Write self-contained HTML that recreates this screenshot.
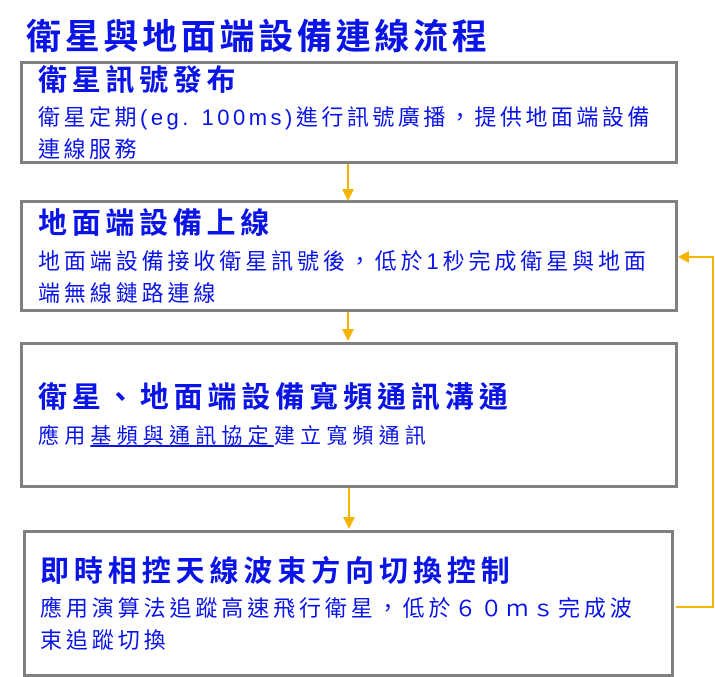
<!DOCTYPE html>
<html><head><meta charset="utf-8"><style>
body{margin:0;width:715px;height:677px;background:#fff;position:relative;overflow:hidden;font-family:"Liberation Sans","Noto Sans CJK TC",sans-serif;color:#0a14e6}
.t{position:absolute;white-space:nowrap;line-height:1}
.box{position:absolute;border:3px solid #808080;box-sizing:border-box;background:#fff}
.h{font-size:29px;font-weight:bold;letter-spacing:4.7px}
.b{font-size:22px;letter-spacing:3.5px}
</style></head><body>
<div class="t" style="left:26px;top:20px;font-size:35px;font-weight:bold;letter-spacing:3.7px">衛星與地面端設備連線流程</div>

<div class="box" style="left:20px;top:61px;width:658px;height:103px"></div>
<div class="t h" style="left:38px;top:67px">衛星訊號發布</div>
<div class="t b" style="left:38px;top:107px;letter-spacing:3.5px">衛星定期(eg. 100ms)進行訊號廣播，提供地面端設備</div>
<div class="t b" style="left:38px;top:139px;letter-spacing:3.5px">連線服務</div>

<div class="box" style="left:20px;top:200px;width:658px;height:112px"></div>
<div class="t h" style="left:38px;top:210px">地面端設備上線</div>
<div class="t b" style="left:38px;top:251px;letter-spacing:3.9px">地面端設備接收衛星訊號後，低於1秒完成衛星與地面</div>
<div class="t b" style="left:38px;top:283px;letter-spacing:3.9px">端無線鏈路連線</div>

<div class="box" style="left:20px;top:342px;width:658px;height:146px"></div>
<div class="t h" style="left:38px;top:384px;letter-spacing:4.9px">衛星、地面端設備寬頻通訊溝通</div>
<div class="t b" style="left:38px;top:426px;font-size:21px;letter-spacing:5.2px">應用<span style="text-decoration:underline">基頻與通訊協定</span>建立寬頻通訊</div>

<div class="box" style="left:23px;top:530px;width:651px;height:147px"></div>
<div class="t h" style="left:40px;top:558px;letter-spacing:4.9px">即時相控天線波束方向切換控制</div>
<div class="t b" style="left:40px;top:598px;letter-spacing:3.9px">應用演算法追蹤高速飛行衛星，低於６０ｍｓ完成波</div>
<div class="t b" style="left:40px;top:630px;letter-spacing:3.9px">束追蹤切換</div>

<svg style="position:absolute;left:0;top:0" width="715" height="677">
<g stroke="#f5b400" stroke-width="2" fill="none">
<line x1="348" y1="164" x2="348" y2="193"/>
<line x1="348" y1="312" x2="348" y2="333"/>
<line x1="349" y1="488" x2="349" y2="521"/>
<polyline points="676,607 713,607 713,257 686,257"/>
</g>
<g fill="#f5b400">
<polygon points="342,189 354,189 348,201"/>
<polygon points="342,329 354,329 348,341"/>
<polygon points="343,517 355,517 349,529"/>
<polygon points="678,257 689,251 689,263"/>
</g>
</svg>
</body></html>
